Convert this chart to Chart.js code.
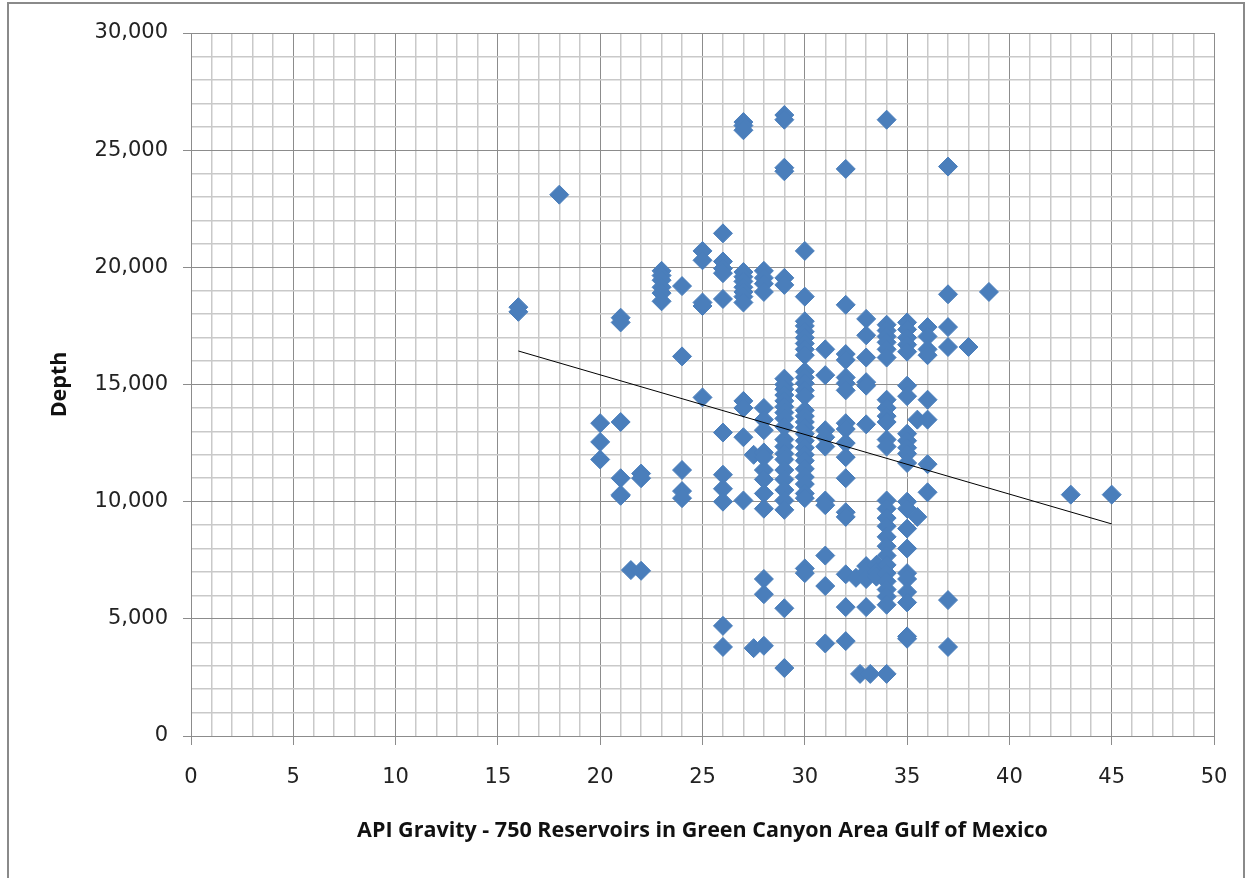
<!DOCTYPE html>
<html lang="en">
<head>
    <meta charset="UTF-8">
    <title>API Gravity vs Depth</title>
    <script src="https://cdn.jsdelivr.net/npm/chart.js"></script>
    <style>
        html, body { margin: 0; padding: 0; background: #fff; }
        #wrap { position: relative; width: 1255px; height: 878px; overflow: hidden; }
        #frame {
            position: absolute; left: 7px; top: 2px; width: 1238px; height: 900px;
            border: 2px solid #8a8a8a; box-sizing: border-box; pointer-events: none;
        }
    </style>
</head>
<body>
<div id="wrap">
    <canvas id="depthChart" width="1255" height="878"></canvas>
    <div id="frame"></div>
</div>

<script>
    // API gravity columns and the depths plotted at each one
    const apiValues = [16, 18, 20, 21, 21.5, 22, 23, 24, 25, 26, 27, 27.5, 28, 29, 30, 31, 32, 32.5, 32.7, 33, 33.2, 33.5, 34, 35, 35.5, 36, 37, 38, 39, 43, 45];
    const depthByApi = [
        [18300, 18100],
        [23100],
        [13350, 12550, 11800],
        [17850, 17650, 13400, 11000, 10300, 10250],
        [7080],
        [11200, 11000, 7050],
        [19850, 19650, 19450, 19150, 18900, 18550],
        [19200, 16200, 11350, 10450, 10150],
        [20700, 20300, 18500, 18350, 14450],
        [21450, 20250, 19950, 19750, 18650, 12950, 11150, 10550, 10000, 4700, 3800],
        [26200, 26050, 25850, 19800, 19600, 19400, 19150, 18950, 18750, 18500, 14300, 14000, 12750, 10050],
        [12000, 3750],
        [19850, 19550, 19300, 18950, 14000, 13500, 13050, 12100, 11900, 11350, 10950, 10350, 9700, 6700, 6050, 3850],
        [26500, 26300, 24250, 24100, 19550, 19250, 15250, 15000, 14800, 14550, 14300, 14050, 13800, 13550, 13200, 12650, 12350, 12050, 11800, 11350, 10950, 10500, 10050, 9650, 5450, 2900],
        [20700, 18750, 17700, 17500, 17250, 17000, 16750, 16500, 16250, 15550, 15300, 15050, 14750, 14500, 13900, 13650, 13400, 13150, 12900, 12600, 12300, 12000, 11750, 11400, 11050, 10750, 10350, 10150, 7150, 6950],
        [16500, 15400, 13050, 12750, 12350, 10050, 9850, 7700, 6400, 3950],
        [24200, 18400, 16300, 16050, 15300, 15050, 14750, 13350, 13100, 12500, 11900, 11000, 9550, 9350, 6900, 5500, 4050],
        [6750],
        [2650],
        [17800, 17100, 16150, 15100, 14950, 13300, 7250, 7000, 6700, 5500],
        [2650],
        [7300, 7000, 6800],
        [26300, 17550, 17300, 17050, 16800, 16500, 16150, 14350, 14000, 13650, 13400, 12650, 12350, 10050, 9700, 9300, 8950, 8500, 8100, 7700, 7300, 6950, 6600, 6250, 5950, 5600, 2650],
        [17650, 17350, 17000, 16700, 16400, 14950, 14500, 12900, 12600, 12300, 12050, 11650, 10000, 9700, 8850, 8000, 6950, 6700, 6150, 5700, 4250, 4150],
        [13500, 9350],
        [17450, 17050, 16500, 16250, 14350, 13500, 11600, 10400],
        [24300, 18850, 17450, 16600, 5800, 3800],
        [16600],
        [18950],
        [10300],
        [10300]
    ];

    // linear trend line end points
    const trendApi = [16, 45];
    const trendDepth = [16430, 9050];

    const xTitle = 'API Gravity - 750 Reservoirs in Green Canyon Area Gulf of Mexico';
    const yTitle = 'Depth';

    const points = [];
    apiValues.forEach((api, i) => {
        depthByApi[i].forEach(d => points.push({ x: api, y: d }));
    });
    const trendPoints = trendApi.map((a, i) => ({ x: a, y: trendDepth[i] }));

    const majorGrid = '#8c8c8c';
    const minorGrid = '#c9c9c9';

    new Chart(document.getElementById('depthChart'), {
        type: 'scatter',
        data: {
            datasets: [
                {
                    label: 'Trend',
                    type: 'line',
                    data: trendPoints,
                    borderColor: '#000',
                    borderWidth: 1,
                    pointRadius: 0,
                    fill: false
                },
                {
                    label: 'Depth',
                    data: points,
                    pointStyle: 'rectRot',
                    pointRadius: 9.5,
                    backgroundColor: '#4a7ebb',
                    borderColor: '#4a7ebb',
                    borderWidth: 1
                }
            ]
        },
        options: {
            responsive: false,
            animation: false,
            layout: { padding: { top: 33, right: 41, left: 0, bottom: 0 } },
            plugins: {
                legend: { display: false },
                tooltip: { enabled: false }
            },
            scales: {
                x: {
                    type: 'linear',
                    min: 0,
                    max: 50,
                    afterFit: s => { s.height = 142; },
                    ticks: {
                        stepSize: 1,
                        autoSkip: false,
                        maxRotation: 0,
                        padding: 20,
                        color: '#222',
                        font: { family: 'DejaVu Sans', size: 21 },
                        callback: v => (v % 5 === 0 ? String(v) : '')
                    },
                    grid: {
                        color: c => (c.tick && c.tick.value % 5 === 0 ? majorGrid : minorGrid),
                        lineWidth: c => (c.tick && c.tick.value % 5 === 0 ? 1 : 1.5),
                        tickColor: c => (c.tick && c.tick.value % 5 === 0 ? majorGrid : 'rgba(0,0,0,0)'),
                        tickLength: 9
                    },
                    border: { color: majorGrid },
                    title: {
                        display: true,
                        text: xTitle,
                        color: '#111',
                        font: { family: 'Open Sans', size: 21.5, weight: 'bold' },
                        padding: { top: 0, bottom: 34 }
                    }
                },
                y: {
                    type: 'linear',
                    min: 0,
                    max: 30000,
                    afterFit: s => { s.width = 191; },
                    ticks: {
                        stepSize: 1000,
                        autoSkip: false,
                        padding: 15,
                        color: '#222',
                        font: { family: 'DejaVu Sans', size: 21 },
                        callback: v => (v % 5000 === 0 ? v.toLocaleString('en-US') : '')
                    },
                    grid: {
                        color: c => (c.tick && c.tick.value % 5000 === 0 ? majorGrid : minorGrid),
                        lineWidth: c => (c.tick && c.tick.value % 5000 === 0 ? 1 : 1.5),
                        tickColor: c => (c.tick && c.tick.value % 5000 === 0 ? majorGrid : 'rgba(0,0,0,0)'),
                        tickLength: 8
                    },
                    border: { color: majorGrid },
                    title: {
                        display: true,
                        text: yTitle,
                        color: '#111',
                        font: { family: 'Open Sans', size: 21.5, weight: 'bold' },
                        padding: { top: 47, bottom: 0 }
                    }
                }
            }
        }
    });
</script>
</body>
</html>
